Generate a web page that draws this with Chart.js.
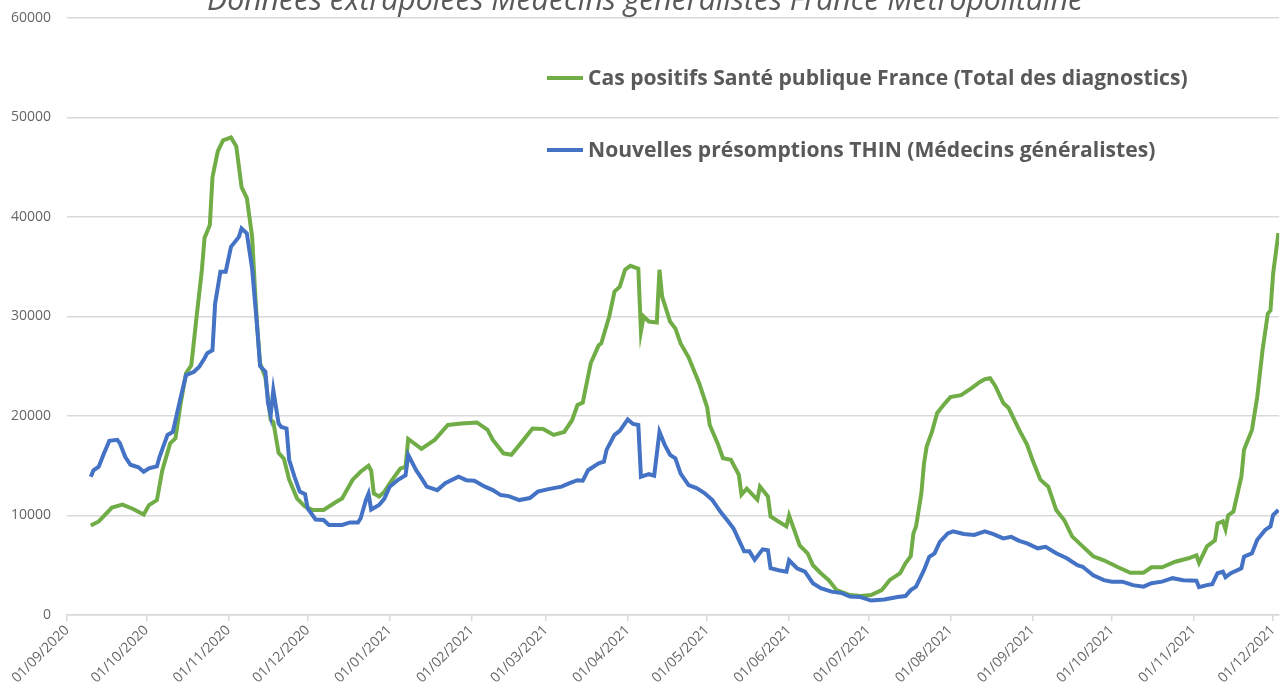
<!DOCTYPE html>
<html>
<head>
<meta charset="utf-8">
<script src="https://cdn.jsdelivr.net/npm/chart.js@4.4.1/dist/chart.umd.min.js"></script>
<style>
  html, body { margin: 0; padding: 0; background: #fff; }
  #wrap { width: 1286px; height: 693px; }
</style>
</head>
<body>
<div id="wrap"><canvas id="myChart" width="1286" height="693"></canvas></div>
<script>
// jours comptés depuis le 01/09/2020
var greenDays = [9, 12, 17, 21, 25, 29, 31, 34, 36, 39, 41, 43, 45, 47, 49, 51, 52, 54, 55, 57, 59, 62, 64, 66, 68, 70, 71, 72, 73, 75, 77, 78, 80, 82, 84, 87, 90, 93, 97, 102, 104, 108, 111, 114, 115, 116, 118, 120, 123, 126, 128, 129, 134, 139, 144, 149, 155, 159, 161, 165, 168, 172, 176, 180, 184, 188, 191, 193, 195, 198, 201, 202, 205, 207, 209, 211, 213, 216, 217, 218, 220, 223, 224, 225, 228, 230, 232, 235, 239, 242, 243, 246, 248, 251, 254, 255, 257, 261, 262, 265, 266, 269, 272, 273, 275, 277, 280, 282, 285, 288, 291, 296, 300, 304, 308, 311, 315, 317, 319, 320, 321, 323, 324, 325, 327, 329, 332, 334, 338, 342, 345, 347, 349, 351, 354, 356, 360, 363, 365, 368, 371, 374, 377, 380, 384, 388, 392, 397, 402, 407, 410, 414, 419, 424, 427, 428, 431, 434, 435, 437, 438, 439, 441, 444, 445, 448, 450, 452, 454, 455, 456, 458]
var greenValues = [9000, 9400, 10800, 11100, 10650, 10100, 11050, 11550, 14500, 17250, 17750, 21300, 24300, 25100, 30000, 34700, 37900, 39200, 44000, 46600, 47700, 48000, 47100, 43000, 41900, 38000, 33000, 28600, 25300, 23900, 19600, 19400, 16300, 15700, 13600, 11700, 10900, 10550, 10550, 11400, 11700, 13600, 14400, 15000, 14500, 12200, 11900, 12400, 13600, 14700, 14900, 17700, 16700, 17600, 19100, 19250, 19350, 18600, 17600, 16250, 16100, 17400, 18750, 18700, 18100, 18400, 19600, 21100, 21350, 25300, 27100, 27300, 30000, 32500, 33000, 34700, 35100, 34800, 28500, 30000, 29500, 29400, 34700, 32000, 29500, 28800, 27300, 25900, 23300, 20900, 19100, 17250, 15750, 15600, 14100, 12100, 12700, 11600, 12900, 11900, 9900, 9400, 8900, 10000, 8500, 7000, 6200, 5000, 4200, 3500, 2500, 2000, 1900, 2000, 2500, 3500, 4200, 5200, 5900, 8200, 8900, 12200, 15200, 16900, 18400, 20300, 21300, 21900, 22100, 22800, 23400, 23700, 23800, 23000, 21300, 20800, 18600, 17100, 15600, 13600, 12900, 10550, 9550, 7900, 6900, 5900, 5500, 4850, 4250, 4250, 4800, 4800, 5350, 5700, 6000, 5250, 6900, 7500, 9200, 9400, 8600, 10000, 10400, 13900, 16600, 18600, 21900, 26600, 30300, 30600, 34300, 38400]

var blueDays = [9, 10, 12, 14, 16, 19, 20, 22, 24, 27, 29, 31, 34, 35, 38, 40, 43, 45, 48, 50, 52, 53, 55, 56, 58, 60, 62, 65, 66, 68, 70, 72, 73, 75, 76, 77, 78, 80, 81, 83, 84, 86, 88, 90, 91, 94, 97, 99, 104, 107, 110, 111, 113, 114, 115, 118, 120, 122, 125, 128, 129, 132, 134, 136, 140, 143, 148, 151, 154, 158, 161, 164, 167, 171, 175, 178, 182, 187, 190, 193, 195, 197, 201, 203, 204, 207, 209, 212, 214, 216, 217, 220, 222, 224, 226, 228, 230, 232, 235, 238, 241, 244, 247, 250, 252, 254, 256, 258, 260, 263, 265, 266, 269, 272, 273, 276, 279, 282, 285, 289, 293, 296, 300, 304, 309, 314, 317, 319, 321, 324, 326, 328, 330, 333, 335, 339, 343, 347, 350, 354, 357, 360, 363, 367, 370, 374, 378, 382, 384, 388, 392, 395, 399, 403, 407, 410, 414, 418, 422, 427, 428, 431, 433, 435, 437, 438, 440, 444, 445, 448, 450, 453, 455, 456, 458]
var blueValues = [13900, 14550, 14900, 16250, 17500, 17600, 17250, 15900, 15100, 14850, 14400, 14750, 14950, 15900, 18100, 18400, 21900, 24100, 24450, 24950, 25800, 26300, 26600, 31300, 34500, 34500, 37000, 38000, 38850, 38350, 34800, 28600, 25000, 24450, 21300, 20100, 22600, 19250, 18900, 18750, 15600, 13900, 12400, 12150, 10700, 9600, 9550, 9050, 9050, 9300, 9300, 9700, 11550, 12200, 10600, 11050, 11700, 12900, 13550, 14050, 16100, 14550, 13750, 12900, 12550, 13250, 13900, 13550, 13500, 12900, 12550, 12050, 11950, 11550, 11750, 12400, 12650, 12900, 13250, 13550, 13500, 14550, 15250, 15400, 16600, 18100, 18500, 19650, 19200, 19100, 13900, 14150, 14000, 18400, 17100, 16100, 15750, 14200, 13050, 12750, 12250, 11550, 10400, 9400, 8700, 7550, 6400, 6400, 5550, 6600, 6500, 4700, 4500, 4350, 5500, 4700, 4350, 3200, 2700, 2350, 2200, 1850, 1800, 1450, 1550, 1800, 1900, 2500, 2850, 4500, 5850, 6200, 7350, 8200, 8400, 8150, 8050, 8400, 8150, 7700, 7850, 7450, 7200, 6700, 6850, 6200, 5700, 5000, 4850, 4000, 3500, 3350, 3350, 3000, 2850, 3200, 3350, 3700, 3500, 3450, 2800, 3000, 3100, 4200, 4350, 3800, 4200, 4700, 5850, 6200, 7550, 8550, 8900, 10050, 10550]

var tickDays = [0, 30, 61, 91, 122, 153, 181, 212, 242, 273, 303, 334, 365, 395, 426, 456]
var tickLabels = ['01/09/2020', '01/10/2020', '01/11/2020', '01/12/2020', '01/01/2021', '01/02/2021', '01/03/2021', '01/04/2021', '01/05/2021', '01/06/2021', '01/07/2021', '01/08/2021', '01/09/2021', '01/10/2021', '01/11/2021', '01/12/2021']
var yTicks = [0, 10000, 20000, 30000, 40000, 50000, 60000]

var labelGreen = 'Cas positifs Santé publique France (Total des diagnostics)'
var labelBlue = 'Nouvelles présomptions THIN (Médecins généralistes)'
var titre = 'Données extrapolées Médecins généralistes France Métropolitaine'

var gris = '#595959'

function fitFont(ctx, text, style, width) {
    ctx.font = style + ' 20px "Open Sans"'
    var w = ctx.measureText(text).width
    return style + ' ' + (20 * width / w).toFixed(1) + 'px "Open Sans"'
}

// titre (coupé en haut) + légende dans la zone du graphique
var decor = {
    id: 'decor',
    afterDraw: function (chart) {
        var ctx = chart.ctx
        ctx.save()
        ctx.fillStyle = gris
        ctx.textAlign = 'left'
        ctx.textBaseline = 'alphabetic'
        ctx.font = fitFont(ctx, titre, 'italic', 876)
        ctx.fillText(titre, 207, 10)

        var fontLeg = fitFont(ctx, labelGreen, 'bold', 599)
        var rows = [78, 150]
        chart.data.datasets.forEach(function (ds, i) {
            var y = rows[i]
            ctx.strokeStyle = ds.borderColor
            ctx.lineWidth = 4
            ctx.beginPath()
            ctx.moveTo(547, y)
            ctx.lineTo(583, y)
            ctx.stroke()
            ctx.font = fontLeg
            ctx.textBaseline = 'middle'
            ctx.fillStyle = gris
            ctx.fillText(ds.label, 588, y + 1)
        })
        ctx.restore()
    }
}

const ctx = document.getElementById('myChart')
new Chart(ctx, {
    type: 'line',
    data: {
        datasets: [{
            label: labelGreen,
            data: greenDays.map(function (d, i) { return { x: d, y: greenValues[i] } }),
            borderColor: '#70ad47',
            borderWidth: 4,
            pointRadius: 0,
            tension: 0,
            order: 1
        }, {
            label: labelBlue,
            data: blueDays.map(function (d, i) { return { x: d, y: blueValues[i] } }),
            borderColor: '#4472c4',
            borderWidth: 4,
            pointRadius: 0,
            tension: 0,
            order: 0
        }]
    },
    options: {
        responsive: false,
        animation: false,
        layout: { padding: { top: 18, right: 2, left: 0, bottom: 0 } },
        plugins: {
            legend: { display: false },
            tooltip: { enabled: false }
        },
        scales: {
            x: {
                type: 'linear',
                min: 0,
                max: 458.3,
                afterBuildTicks: function (s) { s.ticks = tickDays.map(function (v) { return { value: v } }) },
                afterFit: function (s) { s.height = 78 },
                ticks: {
                    autoSkip: false,
                    minRotation: 45,
                    maxRotation: 45,
                    padding: 1,
                    color: '#666666',
                    font: { family: 'Open Sans', size: 14 },
                    callback: function (v, i) { return tickLabels[i] }
                },
                grid: { drawOnChartArea: false, drawTicks: true, tickLength: 6, color: '#d9d9d9', lineWidth: 1.5 },
                border: { color: '#d9d9d9', width: 1.5 }
            },
            y: {
                min: 0,
                max: 60000,
                afterBuildTicks: function (s) { s.ticks = yTicks.map(function (v) { return { value: v } }) },
                afterFit: function (s) {
                    s.width = 67
                    s.paddingTop = 0
                    s.paddingBottom = 0
                },
                ticks: {
                    padding: 16,
                    color: '#666666',
                    font: { family: 'Open Sans', size: 14 },
                    callback: function (v) { return String(v) }
                },
                grid: { color: '#d9d9d9', lineWidth: 1.5, drawTicks: false },
                border: { display: false }
            }
        }
    },
    plugins: [decor]
})
</script>
</body>
</html>
